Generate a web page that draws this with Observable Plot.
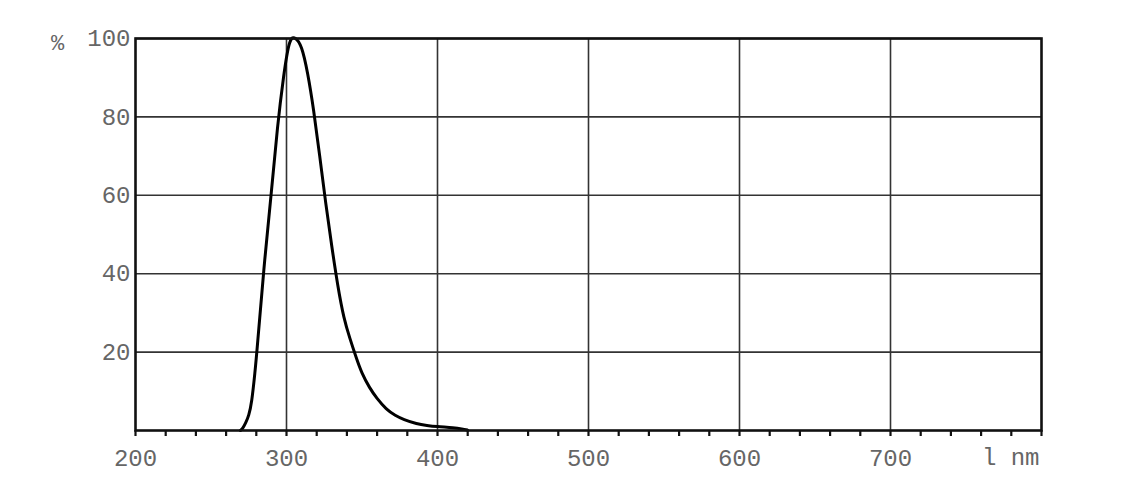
<!DOCTYPE html>
<html>
<head>
<meta charset="utf-8">
<script src="https://cdn.jsdelivr.net/npm/d3@7"></script>
<script src="https://cdn.jsdelivr.net/npm/@observablehq/plot@0.6"></script>
<style>
  html, body { margin: 0; padding: 0; background: #fff; }
  #chart svg { display: block; }
</style>
</head>
<body>
<div id="chart"></div>
<script>
// Wavelength (nm) and relative intensity (%)
const wavelength = [269.5, 271, 273, 275, 277, 279, 281, 285, 290, 294, 298, 302, 306, 310, 314, 318, 322, 326, 330, 334, 338, 342, 346, 350, 355, 360, 366, 372, 378, 386, 393, 400, 410, 416, 420];
const intensity  = [0,     0.6, 2.0, 4.0, 7.8, 14.5, 23, 41,  61,  77,  90,  98.8, 100, 97.5, 91, 81.5, 70, 58,  47,  37,  29,  23.5, 18.8, 14.7, 11.0, 8.2, 5.6, 3.9, 2.8, 1.8, 1.3, 1.0, 0.7, 0.4, 0.1];

const xLabelTicks = [200, 300, 400, 500, 600, 700];
const xMinorTicks = d3.range(200, 801, 20);
const xGrid = [300, 400, 500, 600, 700];
const yTicks = [20, 40, 60, 80, 100];
const unitLabel = ["l nm"];
const yUnit = ["%"];

const data = wavelength.map((w, i) => ({w, v: intensity[i]}));
const font = "Liberation Mono, DejaVu Sans Mono, monospace";
const textColor = "#666";

const chart = Plot.plot({
  width: 1124,
  height: 500,
  marginLeft: 135,
  marginRight: 83,
  marginTop: 38,
  marginBottom: 70,
  style: {fontFamily: font, fontSize: "24px", color: textColor, background: "#fff"},
  x: {domain: [200, 800]},
  y: {domain: [0, 100]},
  marks: [
    Plot.ruleX(xGrid, {stroke: "#333", strokeWidth: 1.6}),
    Plot.ruleY(yTicks, {stroke: "#333", strokeWidth: 1.6}),
    Plot.axisX({ticks: xMinorTicks, tickSize: 6, tickFormat: () => "", stroke: "#111", strokeWidth: 2.2, label: null}),
    Plot.axisX({ticks: xLabelTicks, tickSize: 0, tickPadding: 18, tickFormat: d => String(d), fill: textColor, label: null, fontSize: 24}),
    Plot.axisY({ticks: yTicks, tickSize: 0, tickPadding: 5, tickFormat: d => String(d), fill: textColor, label: null, fontSize: 24}),
    Plot.text(unitLabel, {x: 800, y: 0, text: d => d, textAnchor: "end", dy: 27, dx: -2, fill: textColor, fontSize: 24, fontFamily: font}),
    Plot.text(yUnit, {x: 200, y: 100, text: d => d, dx: -78, dy: 4, fill: textColor, fontSize: 22, fontFamily: font}),
    Plot.line(data, {x: "w", y: "v", curve: "natural", stroke: "#000", strokeWidth: 3}),
    Plot.frame({stroke: "#111", strokeWidth: 2.6})
  ]
});
document.getElementById("chart").appendChild(chart);
</script>
</body>
</html>
